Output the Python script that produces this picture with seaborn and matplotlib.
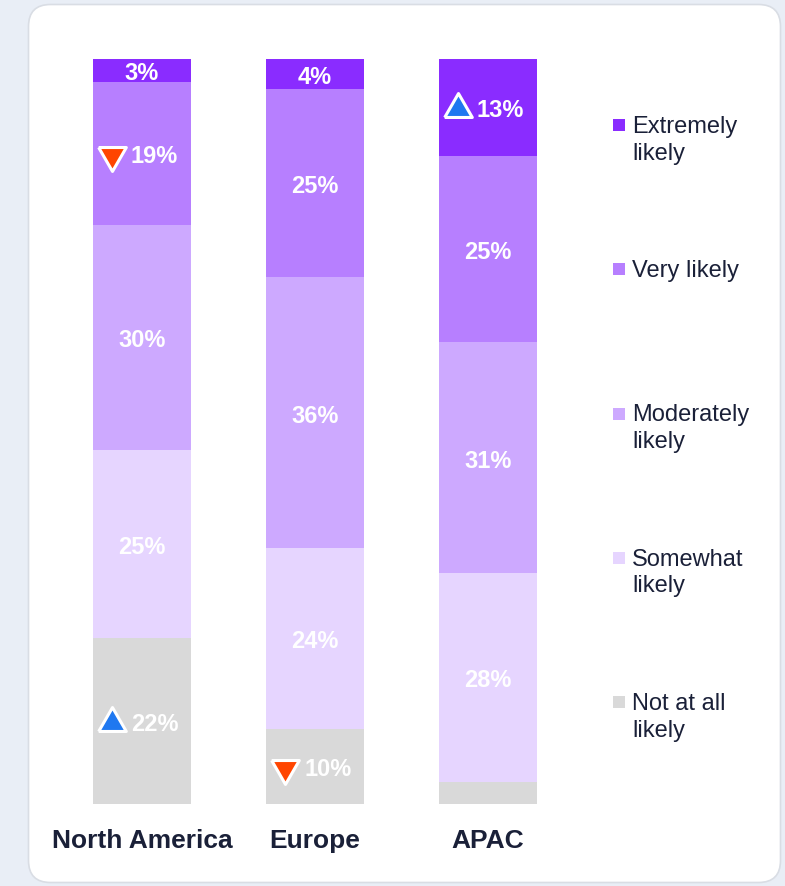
import numpy as np
import pandas as pd
import matplotlib
matplotlib.use("Agg")
import matplotlib.pyplot as plt
import seaborn as sns
from matplotlib.patches import FancyBboxPatch, Rectangle
from matplotlib.transforms import IdentityTransform

# ---- data -------------------------------------------------------------
regions = ["North America", "Europe", "APAC"]
levels = ["Extremely likely", "Very likely", "Moderately likely",
          "Somewhat likely", "Not at all likely"]
extremely = [3, 4, 13]
very = [19, 25, 25]
moderately = [30, 36, 31]
somewhat = [25, 24, 28]
not_at_all = [22, 10, 3]
# significant change vs. total: +1 up, -1 down, 0 none
extremely_change = [0, 0, 1]
very_change = [-1, 0, 0]
moderately_change = [0, 0, 0]
somewhat_change = [0, 0, 0]
not_at_all_change = [1, -1, 0]
# segments too thin to carry a label
not_at_all_labelled = [True, True, False]

colors = {
    "Extremely likely": "#8a2cff",
    "Very likely": "#b77fff",
    "Moderately likely": "#cda9ff",
    "Somewhat likely": "#e6d5ff",
    "Not at all likely": "#d9d9d9",
}
UP_COLOR = "#1f78f0"
DOWN_COLOR = "#ff4500"
TEXT_DARK = "#1a2038"

values = {
    "Extremely likely": extremely,
    "Very likely": very,
    "Moderately likely": moderately,
    "Somewhat likely": somewhat,
    "Not at all likely": not_at_all,
}
changes = {
    "Extremely likely": extremely_change,
    "Very likely": very_change,
    "Moderately likely": moderately_change,
    "Somewhat likely": somewhat_change,
    "Not at all likely": not_at_all_change,
}
labelled = {lv: [True] * len(regions) for lv in levels}
labelled["Not at all likely"] = not_at_all_labelled

# long table, 100% stacked from the bottom ("Not at all" first)
rows = []
for lv in levels:
    for i, r in enumerate(regions):
        rows.append({"region": r, "level": lv, "value": values[lv][i]})
df = pd.DataFrame(rows)
df["share"] = df["value"] / df.groupby("region")["value"].transform("sum")
stack_order = levels[::-1]
df["level"] = pd.Categorical(df["level"], categories=stack_order, ordered=True)
df = df.sort_values(["region", "level"])
df["top"] = df.groupby("region")["share"].cumsum()
df["mid"] = df["top"] - df["share"] / 2

# ---- figure -----------------------------------------------------------
W, H = 785, 886
sns.set_theme(style="white")
plt.rcParams["font.family"] = ["Liberation Sans", "DejaVu Sans"]

fig = plt.figure(figsize=(W / 100, H / 100), dpi=100, facecolor="#e9eef6")

# white card behind everything
card = FancyBboxPatch((28.5, 3.5), 752, 878,
                      boxstyle="round,pad=0,rounding_size=22",
                      transform=IdentityTransform(),
                      facecolor="white", edgecolor="#d9dde4", linewidth=1.2,
                      zorder=-10)
fig.patches.append(card)

# plot area in pixel geometry
bar_px = 173.0           # distance between bar centres
left_px = 142 - bar_px / 2
top_px, bottom_px = 59, 804
ax = fig.add_axes([left_px / W, (H - bottom_px) / H,
                   3 * bar_px / W, (bottom_px - top_px) / H])
ax.set_facecolor("none")
ax.set_zorder(1)

# overlay cumulative bars, tallest first
for lv in levels:
    sub = df[df["level"] == lv]
    sns.barplot(data=sub, x="region", y="top", order=regions,
                color=colors[lv], saturation=1, width=0.567,
                errorbar=None, linewidth=0, ax=ax, zorder=2)

ax.set_xlim(-0.5, 2.5)
ax.set_ylim(0, 1)
ax.set_ylabel("")
ax.set_xlabel("")
ax.set_yticks([])
for s in ax.spines.values():
    s.set_visible(False)
ax.tick_params(axis="x", length=0, pad=18)
ax.set_xticks(range(len(regions)))
ax.set_xticklabels(regions, fontsize=19, fontweight="bold", color=TEXT_DARK)

# equilateral triangle markers
tri_up = [(-1, -0.577), (1, -0.577), (0, 1.155), (-1, -0.577)]
tri_down = [(-1, 0.577), (1, 0.577), (0, -1.155), (-1, 0.577)]

px = 1.0 / bar_px                   # one pixel in x data units
py = 1.0 / (bottom_px - top_px)     # one pixel in y data units
for _, row in df.iterrows():
    i = regions.index(row["region"])
    lv = row["level"]
    if not labelled[lv][i]:
        continue
    txt = f"{row['value']}%"
    ch = changes[lv][i]
    y = row["mid"] - 3.5 * py
    if ch == 0:
        ax.text(i, y, txt, ha="center", va="center",
                fontsize=17, fontweight="bold", color="white", zorder=4)
    else:
        ax.text(i - 11 * px, y, txt, ha="left", va="center",
                fontsize=17, fontweight="bold", color="white", zorder=4)
        ax.plot(i - 30 * px, y + 1.5 * py,
                marker=tri_up if ch > 0 else tri_down,
                markersize=23, markerfacecolor=UP_COLOR if ch > 0 else DOWN_COLOR,
                markeredgecolor="white", markeredgewidth=2.2,
                linestyle="none", zorder=5)

# legend on the right, entries evenly spaced
leg_top0 = 116
leg_step = 144.25
for k, lv in enumerate(levels):
    top = leg_top0 + k * leg_step
    fig.patches.append(Rectangle((613, H - (top + 3) - 12), 12, 12,
                                 transform=IdentityTransform(),
                                 facecolor=colors[lv], edgecolor="none",
                                 zorder=3))
    words = lv.split(" ")
    label = " ".join(words[:-1]) + "\n" + words[-1] if lv != "Very likely" else lv
    fig.text(632 / W, 1 - top / H, label, ha="left", va="top",
             fontsize=17, color=TEXT_DARK, linespacing=1.27)

fig.savefig("out.png", dpi=100, facecolor=fig.get_facecolor())
